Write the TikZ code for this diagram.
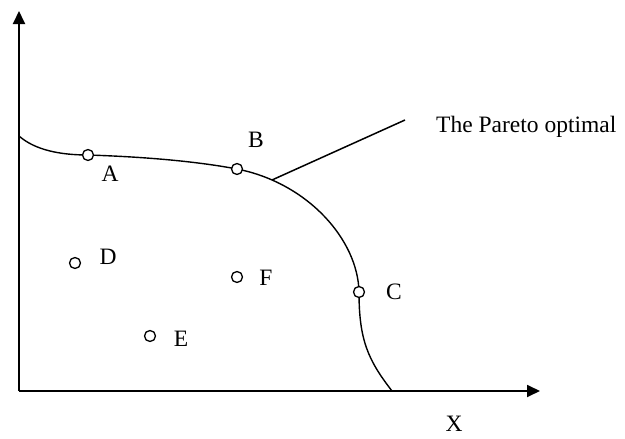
\documentclass[tikz,border=0pt]{standalone}
\usepackage{fontspec}
\setmainfont{Liberation Serif}
\usetikzlibrary{arrows.meta}
\begin{document}
\begin{tikzpicture}[x=1pt,y=-1pt,
  axis/.style={line width=1.8pt,-{Triangle[length=13pt,width=12pt]}},
  curve/.style={line width=1.4pt},
  pt/.style={circle,draw,line width=1.3pt,fill=white,minimum size=11pt,inner sep=0pt},
  lbl/.style={inner sep=0pt,font=\fontsize{23.5}{28}\selectfont},
  leader/.style={line width=1.5pt}]
\useasboundingbox (0,0) rectangle (625,439);
\coordinate (O) at (19,391);
\coordinate (Ytop) at (19,11);
\coordinate (Xend) at (540,391);
\coordinate (S) at (19,136);
\coordinate (Ab) at (88,155);
\coordinate (Bb) at (237,169);
\coordinate (Cb) at (359,292);
\coordinate (E0) at (392,391);
\coordinate (L0) at (272,180);
\coordinate (L1) at (405,120);
\draw[axis] (O) -- (Ytop);
\draw[axis] (O) -- (Xend);
\draw[curve] (S) .. controls (35,150) and (60,155) .. (Ab)
  .. controls (150,157) and (200,162) .. (Bb)
  .. controls (308,183) and (358,240) .. (Cb)
  .. controls (359,340) and (368,360) .. (E0);
\draw[leader] (L0) -- (L1);
\node[pt] (A) at (Ab) {};
\node[pt] (B) at (Bb) {};
\node[pt] (C) at (Cb) {};
\node[pt] (D) at (75,263) {};
\node[pt] (E) at (150,336) {};
\node[pt] (F) at (237,277) {};
\node[lbl] (lA) at (110,174) {A};
\node[lbl] (lB) at (256,140) {B};
\node[lbl] (lC) at (394,292) {C};
\node[lbl] (lD) at (108,257) {D};
\node[lbl] (lE) at (181,339) {E};
\node[lbl] (lF) at (266,278) {F};
\node[lbl] (lX) at (454,424) {X};
\node[lbl,anchor=base west] (P) at (436,132) {The Pareto optimal};
\end{tikzpicture}
\end{document}
